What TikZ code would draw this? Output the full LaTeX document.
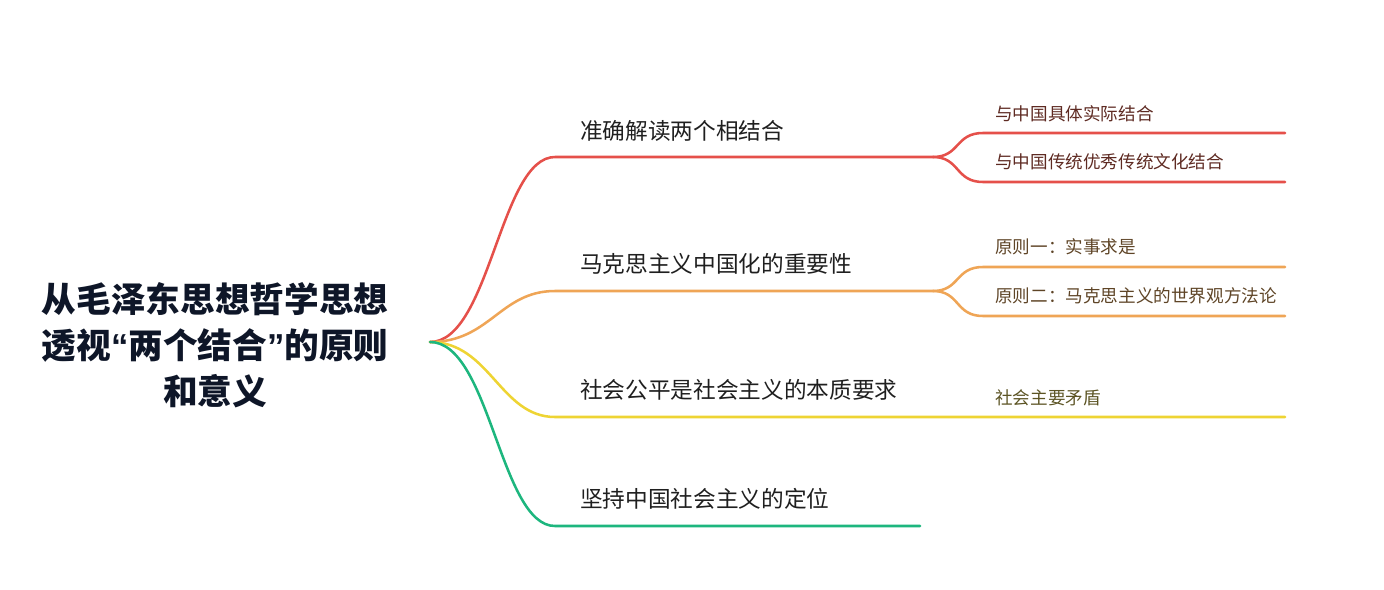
\documentclass[tikz,border=0pt]{standalone}
\usepackage{fontspec}
\setmainfont{Noto Sans CJK SC}
\newfontfamily\quotefont{Liberation Sans}
\usetikzlibrary{positioning}

\definecolor{redline}{HTML}{E5504A}
\definecolor{orangeline}{HTML}{EFA556}
\definecolor{yellowline}{HTML}{EED433}
\definecolor{greenline}{HTML}{1DB67E}
\definecolor{titleink}{HTML}{0E1628}
\definecolor{redink}{HTML}{5E2A22}
\definecolor{orangeink}{HTML}{5E4426}
\definecolor{yellowink}{HTML}{5C5424}

\newcommand{\openquote}{{\quotefont\bfseries “}}
\newcommand{\closequote}{{\quotefont\bfseries ”}}

\tikzset{
  branch/.style={line width=1.9pt, line cap=round},
  topic/.style={anchor=west, inner sep=0pt, font=\fontsize{17}{20}\selectfont, text=black!88},
  leaf/.style={anchor=west, inner sep=0pt, font=\fontsize{13.2}{16}\selectfont},
}

\begin{document}
\begin{tikzpicture}[x=0.75pt,y=-0.75pt]
    \useasboundingbox (0,0) rectangle (1384,589);

    % root
    \node (title) at (215,345) [align=center, text=titleink,
      font=\fontsize{26}{34.5}\selectfont\bfseries] {从毛泽东思想哲学思想\\透视\openquote 两个结合\closequote 的原则\\和意义};
    \coordinate (root) at (430,342);

    % main branches
    \coordinate (a1) at (555,157);  \coordinate (a2) at (933,157);
    \coordinate (b1) at (555,291);  \coordinate (b2) at (933,291);
    \coordinate (c1) at (555,417);  \coordinate (c2) at (1285,417);
    \coordinate (d1) at (555,526);  \coordinate (d2) at (920,526);

    \draw[branch, redline]    (root) .. controls (490,342) and (500,157) .. (a1) -- (a2);
    \draw[branch, orangeline] (root) .. controls (490,342) and (500,291) .. (b1) -- (b2);
    \draw[branch, yellowline] (root) .. controls (490,342) and (500,417) .. (c1) -- (c2);
    \draw[branch, greenline]  (root) .. controls (490,342) and (500,526) .. (d1) -- (d2);

    \node[topic] (accurate) at (580,131) {准确解读两个相结合};
    \node[topic] (marxism)  at (580,264) {马克思主义中国化的重要性};
    \node[topic] (fairness) at (580,390) {社会公平是社会主义的本质要求};
    \node[topic] (position) at (580,499) {坚持中国社会主义的定位};

    % leaves
    \coordinate (a3) at (983,133);  \coordinate (a4) at (1285,133);
    \coordinate (a5) at (983,182);  \coordinate (a6) at (1285,182);
    \coordinate (b3) at (983,267);  \coordinate (b4) at (1285,267);
    \coordinate (b5) at (983,316);  \coordinate (b6) at (1285,316);

    \draw[branch, redline]    (a2) .. controls (960,157) and (955,133) .. (a3) -- (a4);
    \draw[branch, redline]    (a2) .. controls (960,157) and (955,182) .. (a5) -- (a6);
    \draw[branch, orangeline] (b2) .. controls (960,291) and (955,267) .. (b3) -- (b4);
    \draw[branch, orangeline] (b2) .. controls (960,291) and (955,316) .. (b5) -- (b6);

    \node[leaf, text=redink]    (practice)  at (995,114) {与中国具体实际结合};
    \node[leaf, text=redink]    (tradition) at (995,162) {与中国传统优秀传统文化结合};
    \node[leaf, text=orangeink] (truth)     at (995,247) {原则一：实事求是};
    \node[leaf, text=orangeink] (worldview) at (995,296) {原则二：马克思主义的世界观方法论};
    \node[leaf, text=yellowink] (conflict)  at (995,398) {社会主要矛盾};
\end{tikzpicture}
\end{document}
